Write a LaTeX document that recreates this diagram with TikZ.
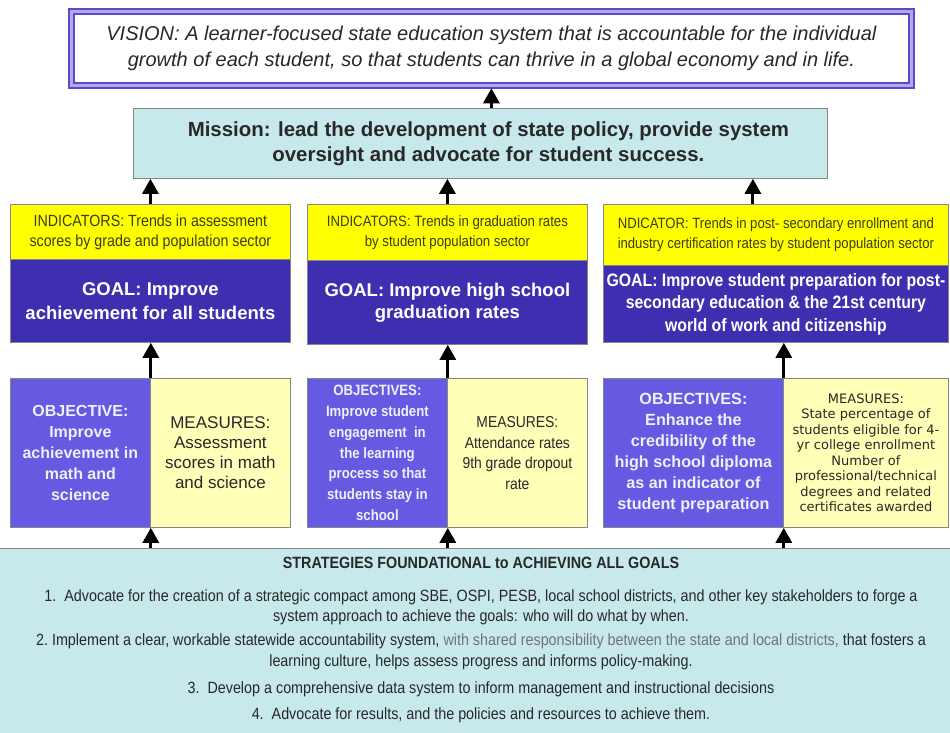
\documentclass[tikz,border=0pt]{standalone}
\usepackage{fontspec}
\setmainfont{Liberation Sans}
\newfontfamily\narrowf[FakeStretch=0.88]{Liberation Sans}
\newfontfamily\dejavu{DejaVu Sans}
\usetikzlibrary{arrows.meta}
\definecolor{goalp}{RGB}{62,46,176}
\definecolor{objp}{RGB}{102,90,226}
\definecolor{measy}{RGB}{255,255,184}
\definecolor{indy}{RGB}{255,255,0}
\definecolor{lblue}{RGB}{199,233,236}
\definecolor{visp}{RGB}{92,74,200}
\definecolor{visl}{RGB}{178,168,236}
\definecolor{bgray}{RGB}{135,135,135}
\definecolor{txt}{RGB}{40,40,40}
\definecolor{indtxt}{RGB}{60,60,30}
\definecolor{midgray}{RGB}{115,115,115}
\definecolor{objtxt}{RGB}{240,240,250}
\tikzset{
  box/.style={draw=bgray, line width=0.8pt, anchor=north west, inner sep=0pt, align=center},
  indbox/.style={box, fill=indy, text=indtxt},
  goalbox/.style={box, fill=goalp, text=white, font=\bfseries\fontsize{18.5}{24}\selectfont},
  objbox/.style={box, fill=objp, text=objtxt, minimum height=149pt},
  measbox/.style={box, fill=measy, text=txt, minimum height=149pt},
  arr/.style={line width=3pt, -{Triangle[width=16pt,length=15pt]}}
}
\begin{document}
\begin{tikzpicture}[x=1pt,y=-1pt]
\useasboundingbox (0,0) rectangle (950,732);
% vision
\node[draw=visp, line width=1.8pt, double=visl, double distance=3.5pt, fill=white,
  minimum width=840pt, minimum height=74pt, anchor=north west, inner sep=0pt, align=center,
  font=\itshape\fontsize{20}{26}\selectfont, text=txt] (vision) at (70.5,10.5)
  {VISION: A learner-focused state education system that is accountable for the individual\\
   growth of each student, so that students can thrive in a global economy and in life.};
% mission
\node[box, fill=lblue, minimum width=694pt, minimum height=70pt, text=txt,
  font=\bfseries\fontsize{20.4}{25}\selectfont] (mission) at (133,108)
  {\hspace*{16pt}Mission: lead the development of state policy, provide system\\
   \hspace*{16pt}oversight and advocate for student success.};
% column 1
\node[indbox, minimum width=280pt, minimum height=55pt, font=\narrowf\fontsize{16.2}{20}\selectfont] (ind1) at (10,204)
  {INDICATORS: Trends in assessment\\ scores by grade and population sector};
\node[goalbox, minimum width=280pt, minimum height=83pt] (goal1) at (10,259)
  {GOAL: Improve\\ achievement for all students};
\node[objbox, minimum width=140pt, font=\bfseries\fontsize{16}{21}\selectfont] (obj1) at (10,378)
  {OBJECTIVE:\\ Improve\\ achievement in\\ math and\\ science};
\node[measbox, minimum width=140pt, font=\fontsize{17}{20}\selectfont] (meas1) at (150,378)
  {MEASURES:\\ Assessment\\ scores in math\\ and science};
% column 2
\node[indbox, minimum width=280pt, minimum height=56pt, font=\narrowf\fontsize{15}{20}\selectfont] (ind2) at (307,204)
  {INDICATORS: Trends in graduation rates\\ by student population sector};
\node[goalbox, minimum width=280pt, minimum height=84pt, font=\bfseries\fontsize{18.5}{22}\selectfont] (goal2) at (307,260)
  {GOAL: Improve high school\\ graduation rates};
\node[objbox, minimum width=140pt, font=\narrowf\bfseries\fontsize{15}{20.7}\selectfont] (obj2) at (307,378)
  {OBJECTIVES:\\ Improve student\\ engagement\ \ in\\ the learning\\ process so that\\ students stay in\\ school};
\node[measbox, minimum width=140pt, font=\narrowf\fontsize{15.8}{20.5}\selectfont] (meas2) at (447,378)
  {MEASURES:\\ Attendance rates\\ 9th grade dropout\\ rate};
% column 3
\node[indbox, minimum width=345pt, minimum height=61pt, font=\narrowf\fontsize{14.9}{20}\selectfont] (ind3) at (603,204)
  {NDICATOR: Trends in post- secondary enrollment and\\ industry certification rates by student population sector};
\node[goalbox, minimum width=345pt, minimum height=77pt, font=\narrowf\bfseries\fontsize{18}{22.5}\selectfont] (goal3) at (603,265)
  {GOAL: Improve student preparation for post-\\ secondary education \& the 21st century\\ world of work and citizenship};
\node[objbox, minimum width=180pt, font=\bfseries\fontsize{16.2}{21}\selectfont] (obj3) at (603,378)
  {OBJECTIVES:\\ Enhance the\\ credibility of the\\ high school diploma\\ as an indicator of\\ student preparation};
\node[measbox, minimum width=165pt, font=\dejavu\fontsize{13}{15.5}\selectfont] (meas3) at (783,378)
  {MEASURES:\\ State percentage of\\ students eligible for 4-\\ yr college enrollment\\ Number of\\ professional/technical\\ degrees and related\\ certificates awarded};
% strategies
\node[box, fill=lblue, minimum width=954pt, minimum height=200pt] (strat) at (-2,548) {};
\node[anchor=north, inner sep=0pt, align=center, text=txt, font=\narrowf\fontsize{16.3}{20}\selectfont] (strattext) at (481,557)
  {{\bfseries STRATEGIES FOUNDATIONAL to ACHIEVING ALL GOALS}\\[13pt]
   1.\ \ Advocate for the creation of a strategic compact among SBE, OSPI, PESB, local school districts, and other key stakeholders to forge a\\
   system approach to achieve the goals: who will do what by when.\\[4pt]
   2.\ Implement a clear, workable statewide accountability system, {\color{midgray}with shared responsibility between the state and local districts,} that fosters a\\[1pt]
   learning culture, helps assess progress and informs policy-making.\\[7pt]
   3.\ \ Develop a comprehensive data system to inform management and instructional decisions\\[6pt]
   4.\ \ Advocate for results, and the policies and resources to achieve them.};
% arrows
\draw[arr] (mission.north -| vision.south) -- ([yshift=-2pt]vision.south);
\draw[arr] (ind1.north) -- (ind1.north |- mission.south);
\draw[arr] (ind2.north) -- (ind2.north |- mission.south);
\draw[arr] ([xshift=-23pt]ind3.north) -- ([xshift=-23pt]ind3.north |- mission.south);
\draw[arr] (obj1.north east) -- (obj1.north east |- goal1.south);
\draw[arr] (obj2.north east) -- (obj2.north east |- goal2.south);
\draw[arr] (obj3.north east) -- (obj3.north east |- goal3.south);
\draw[arr] (strat.north -| obj1.south east) -- (obj1.south east);
\draw[arr] (strat.north -| obj2.south east) -- (obj2.south east);
\draw[arr] (strat.north -| obj3.south east) -- (obj3.south east);
\end{tikzpicture}
\end{document}
